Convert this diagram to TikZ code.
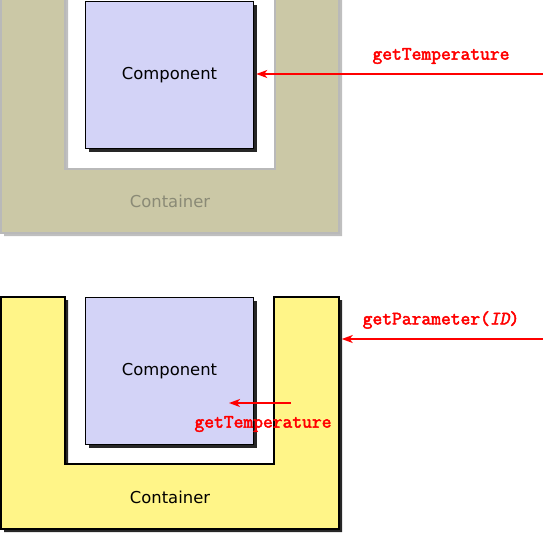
\documentclass[tikz,border=0pt]{standalone}
\usepackage{fontspec}
\newfontfamily\boxfont{DejaVu Sans}
\newfontface\callfont[FakeBold=2.5]{Latin Modern Mono}
\newfontface\callslant[FakeBold=2.5, FakeSlant=0.2]{Latin Modern Mono}
\usetikzlibrary{shadows, calc, shapes, positioning, arrows.meta}

\definecolor{compblue}{RGB}{211,211,247}
\definecolor{contgray}{RGB}{203,200,166}
\definecolor{contyellow}{RGB}{255,245,136}
\definecolor{fadetext}{RGB}{138,138,118}

\tikzset{
  compbox/.style={rectangle, draw=black, line width=1.5pt, fill=compblue,
    minimum width=168pt, minimum height=147pt, inner sep=0pt,
    font=\boxfont\fontsize{16.4}{20}\selectfont,
    drop shadow={shadow xshift=3pt, shadow yshift=-3pt, fill=black, opacity=0.85}},
  call/.style={draw=red, line width=1.4pt, shorten >=2pt,
    -{Stealth[length=11pt, width=8pt, inset=3pt]}},
  calltext/.style={text=red, font=\callfont\fontsize{19}{20}\selectfont}
}

\begin{document}
\begin{tikzpicture}[x=1pt, y=-1pt]
  \clip (0,0) rectangle (543,539);

  % Top: faded container
  \draw[fill=contgray, draw=gray!55, line width=1.2pt,
    drop shadow={shadow xshift=3pt, shadow yshift=-3pt, fill=gray, opacity=0.5}]
    (1,-5) -- (65,-5) -- (65,169) -- (275,169) -- (275,-5) -- (339,-5) -- (339,233) -- (1,233) -- cycle;
  \node[font=\boxfont\fontsize{16.4}{20}\selectfont, text=fadetext] (cont1) at (170,201) {Container};
  \node[compbox] (comp1) at (169.5,75) {Component};

  % Top call
  \coordinate (in1) at (543,74);
  \draw[call] (in1) -- (comp1.east |- in1);
  \node[calltext] (call1) at (441,56) {getTemperature};

  % Bottom: container in front
  \draw[fill=contyellow, draw=black, line width=1.5pt,
    drop shadow={shadow xshift=3pt, shadow yshift=-3pt, fill=black, opacity=0.85}]
    (1,297) -- (65,297) -- (65,464) -- (274,464) -- (274,297) -- (339,297) -- (339,529) -- (1,529) -- cycle;
  \node[font=\boxfont\fontsize{16.4}{20}\selectfont] (cont2) at (170,497) {Container};
  \node[compbox] (comp2) at (169.5,371) {Component};

  % Bottom calls
  \coordinate (edge2) at (339.75,339);
  \coordinate (in2) at (543,339);
  \draw[call] (in2) -- (edge2);
  \node[calltext] (call2) at (441,320) {getParameter({\callslant ID})};

  \coordinate (from3) at (291,403); % inside the container wall
  \coordinate (to3) at (229,403);
  \draw[call, shorten >=0pt] (from3) -- (to3);
  \node[calltext] (call3) at (263,424) {getTemperature};
\end{tikzpicture}
\end{document}
